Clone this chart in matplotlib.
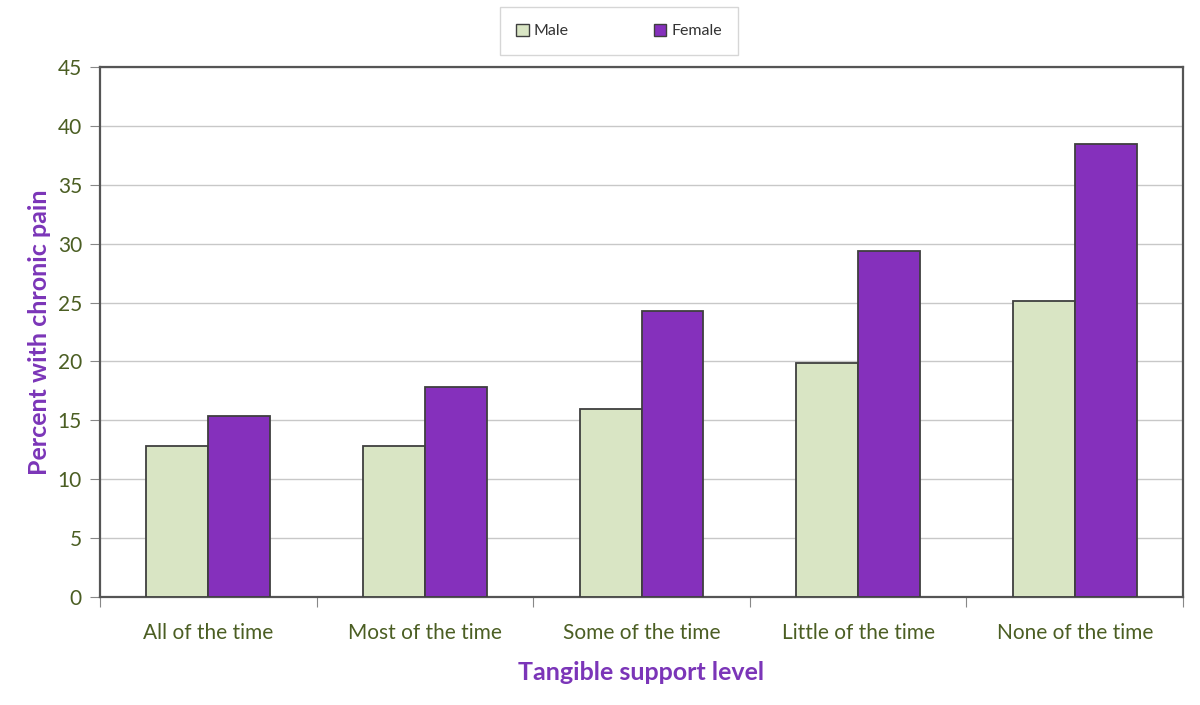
import numpy as np
import matplotlib.pyplot as plt

categories = ["All of the time", "Most of the time", "Some of the time",
              "Little of the time", "None of the time"]
male = [12.8, 12.8, 16.0, 19.9, 25.1]
female = [15.4, 17.8, 24.3, 29.4, 38.5]

plt.rcParams['font.family'] = ['Lato', 'DejaVu Sans']

green_txt = '#4b5e23'
purple_txt = '#7b35b8'
edge = '#3f3f3f'

fig = plt.figure(figsize=(12, 7.05), dpi=100)
ax = fig.add_axes([100/1200, 108/705, 1083/1200, 530/705])

x = np.arange(len(categories))
w = 0.286
b1 = ax.bar(x - w/2, male, w, color='#d9e5c4', edgecolor=edge, linewidth=1.3,
            label='Male', zorder=3)
b2 = ax.bar(x + w/2, female, w, color='#8530bc', edgecolor=edge, linewidth=1.3,
            label='Female', zorder=3)

ax.set_xlim(-0.5, len(categories) - 0.5)
ax.set_ylim(0, 45)
ax.set_yticks(np.arange(0, 46, 5))
ax.yaxis.grid(True, color='#c8c8c8', linewidth=1, zorder=0)

# category labels between boundary ticks
ax.set_xticks(np.arange(-0.5, len(categories), 1))
ax.set_xticklabels([])
ax.set_xticks(x, minor=True)
ax.set_xticklabels(categories, minor=True)
ax.tick_params(axis='x', which='minor', length=0, pad=19, labelsize=15,
               labelcolor=green_txt)
ax.tick_params(axis='x', which='major', length=7, color='#888888', direction='out')
ax.tick_params(axis='y', length=7, color='#888888', direction='out',
               labelsize=15, labelcolor=green_txt, pad=6)

for s in ax.spines.values():
    s.set_color('#555555')
    s.set_linewidth(1.6)

ax.set_ylabel('Percent with chronic pain', fontsize=18, fontweight='bold',
              color=purple_txt)
ax.set_xlabel('Tangible support level', fontsize=18, fontweight='bold',
              color=purple_txt, labelpad=13)
ax.yaxis.set_label_coords(-0.045, 0.5)

leg = fig.legend(handles=[b1, b2], loc='center', ncol=2,
                 bbox_to_anchor=(619/1200, 1 - 31/705), frameon=True,
                 fancybox=False, fontsize=11.5, handlelength=0.8,
                 handleheight=0.8, columnspacing=5.3, borderpad=1.05,
                 handletextpad=0.3, borderaxespad=0)
leg.get_frame().set_edgecolor('#cccccc')
leg.get_frame().set_linewidth(1)
for t in leg.get_texts():
    t.set_color('#333333')
for p in leg.get_patches():
    p.set_linewidth(1)

fig.savefig('out.png', dpi=100)
